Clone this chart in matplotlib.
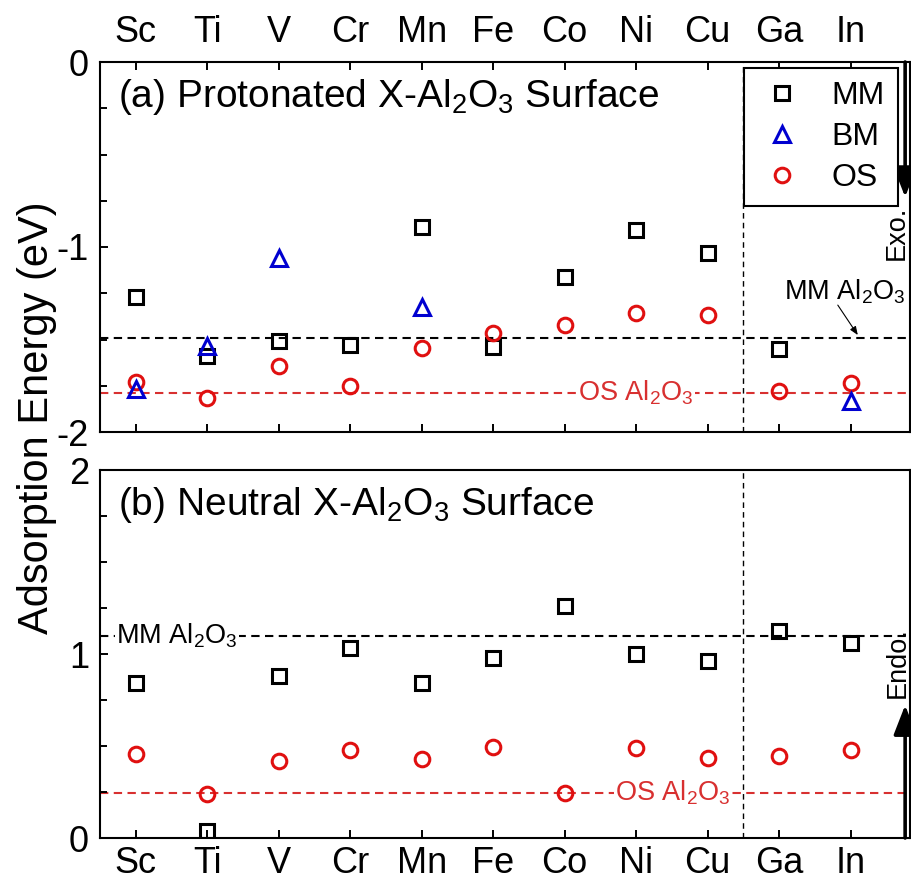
import numpy as np
import matplotlib
matplotlib.use("Agg")
import matplotlib.pyplot as plt
from matplotlib.ticker import MultipleLocator

plt.rcParams['font.family'] = ['Liberation Sans', 'DejaVu Sans']
plt.rcParams['axes.unicode_minus'] = False
plt.rcParams['mathtext.fontset'] = 'custom'
plt.rcParams['mathtext.rm'] = 'Liberation Sans'

# ---------------- data ----------------
elementos = ['Sc', 'Ti', 'V', 'Cr', 'Mn', 'Fe', 'Co', 'Ni', 'Cu', 'Ga', 'In']
nan = np.nan

# (a) protonated surface
prot_mm = [-1.27, -1.59, -1.51, -1.53, -0.89, -1.54, -1.16, -0.91, -1.03, -1.55, nan]
prot_bm = [-1.77, -1.535, -1.06, nan, -1.325, nan, nan, nan, nan, nan, -1.83]
prot_os = [-1.73, -1.815, -1.645, -1.75, -1.545, -1.465, -1.42, -1.355, -1.37, -1.78, -1.735]
prot_ref_mm = -1.49
prot_ref_os = -1.79

# (b) neutral surface
neut_mm = [0.84, 0.04, 0.88, 1.035, 0.84, 0.98, 1.26, 1.00, 0.96, 1.125, 1.06]
neut_os = [0.457, 0.24, 0.42, 0.48, 0.43, 0.496, 0.245, 0.49, 0.435, 0.446, 0.478]
neut_ref_mm = 1.10
neut_ref_os = 0.245

x = np.arange(1, len(elementos) + 1)

VERMELHO = '#e01010'
VERMELHO_LINHA = '#d83030'
AZUL = '#0000d0'
al2o3 = r'Al$_2$O$_3$'

fig = plt.figure(figsize=(9.12, 8.82), dpi=100)
W, H = 912, 882
ax1 = fig.add_axes([100 / W, (H - 432) / H, 810 / W, 370 / H])
ax2 = fig.add_axes([100 / W, (H - 838) / H, 810 / W, 368 / H])

for ax in (ax1, ax2):
    ax.set_xlim(0.5, 11.83)
    ax.set_xticks(x)
    ax.set_xticklabels(elementos)
    ax.yaxis.set_major_locator(MultipleLocator(1))
    ax.yaxis.set_minor_locator(MultipleLocator(0.25))
    ax.tick_params(axis='both', which='both', direction='in', width=1.4, labelsize=26)
    ax.tick_params(axis='both', which='major', length=6)
    ax.tick_params(axis='y', which='minor', length=5)
    ax.tick_params(axis='y', which='both', pad=8)
    for s in ax.spines.values():
        s.set_linewidth(1.5)
    ax.axvline(9.5, color='black', lw=1.0, dashes=(4, 3), zorder=1)

ax1.set_ylim(-2, 0)
ax1.tick_params(axis='x', top=True, bottom=True, labeltop=True, labelbottom=False, pad=9)
ax2.set_ylim(0, 2)
ax2.tick_params(axis='x', top=False, bottom=True, labeltop=False, labelbottom=True, pad=6)

estilo = dict(ls='none', mfc='none', mew=2.2)
seta_grossa = dict(arrowstyle='-|>,head_length=1.8,head_width=0.7',
                   color='black', lw=2.6, shrinkA=0, shrinkB=0)

# ---- (a) ----
ax1.axhline(prot_ref_mm, color='black', lw=1.5, dashes=(4, 2.6), zorder=1)
ax1.axhline(prot_ref_os, color=VERMELHO_LINHA, lw=1.5, dashes=(4, 2.6), zorder=1)
ax1.plot(x, prot_mm, marker='s', ms=9.5, mec='black', label='MM', zorder=3, **estilo)
ax1.plot(x, prot_bm, marker='^', ms=11, mec=AZUL, label='BM', zorder=4, **estilo)
ax1.plot(x, prot_os, marker='o', ms=10.5, mec=VERMELHO, label='OS', zorder=3, **estilo)

ax1.text(0.022, 0.905, '(a) Protonated X-' + al2o3 + ' Surface', transform=ax1.transAxes,
         fontsize=28, va='center', ha='left')
ax1.text(8.0, prot_ref_os, 'OS ' + al2o3, color=VERMELHO_LINHA, fontsize=19.5,
         ha='center', va='center', zorder=2,
         bbox=dict(facecolor='white', edgecolor='none', pad=1))
ax1.text(10.92, -1.24, 'MM ' + al2o3, fontsize=19.5, ha='center', va='center')
ax1.annotate('', xy=(11.1, -1.476), xytext=(10.82, -1.314),
             arrowprops=dict(arrowstyle='-|>,head_length=0.5,head_width=0.2',
                             color='black', lw=0.8, shrinkA=0, shrinkB=0))

leg = ax1.legend(loc='upper right', bbox_to_anchor=(0.985, 0.984), borderaxespad=0,
                 fontsize=23, frameon=True, fancybox=False, framealpha=1,
                 edgecolor='black', numpoints=1, handlelength=1.6,
                 handletextpad=0.75, borderpad=0.4, labelspacing=0.35)
leg.get_frame().set_linewidth(1.5)

ax1.annotate('', xy=(0.994, 0.635), xytext=(0.994, 1.0), xycoords='axes fraction',
             arrowprops=seta_grossa)
ax1.text(0.984, 0.538, 'Exo.', rotation=90, transform=ax1.transAxes,
         fontsize=19.5, ha='center', va='center')

# ---- (b) ----
ax2.axhline(neut_ref_mm, color='black', lw=1.5, dashes=(4, 2.6), zorder=1)
ax2.axhline(neut_ref_os, color=VERMELHO_LINHA, lw=1.5, dashes=(4, 2.6), zorder=1)
ax2.plot(x, neut_mm, marker='s', ms=9.5, mec='black', zorder=3, **estilo)
ax2.plot(x, neut_os, marker='o', ms=10.5, mec=VERMELHO, zorder=3, **estilo)

ax2.text(0.022, 0.905, '(b) Neutral X-' + al2o3 + ' Surface', transform=ax2.transAxes,
         fontsize=28, va='center', ha='left')
ax2.text(0.73, neut_ref_mm, 'MM ' + al2o3, fontsize=19.5, ha='left', va='center', zorder=2,
         bbox=dict(facecolor='white', edgecolor='none', pad=1))
ax2.text(8.51, neut_ref_os, 'OS ' + al2o3, color=VERMELHO_LINHA, fontsize=19.5,
         ha='center', va='center', zorder=2,
         bbox=dict(facecolor='white', edgecolor='none', pad=1))

ax2.annotate('', xy=(0.994, 0.361), xytext=(0.994, 0.0), xycoords='axes fraction',
             arrowprops=seta_grossa)
ax2.text(0.985, 0.476, 'Endo.', rotation=90, transform=ax2.transAxes,
         fontsize=19.5, ha='center', va='center')

fig.text(37 / W, (H - 418) / H, 'Adsorption Energy (eV)', rotation=90,
         fontsize=30, ha='center', va='center')

fig.savefig('out.png', dpi=100, facecolor='white')
